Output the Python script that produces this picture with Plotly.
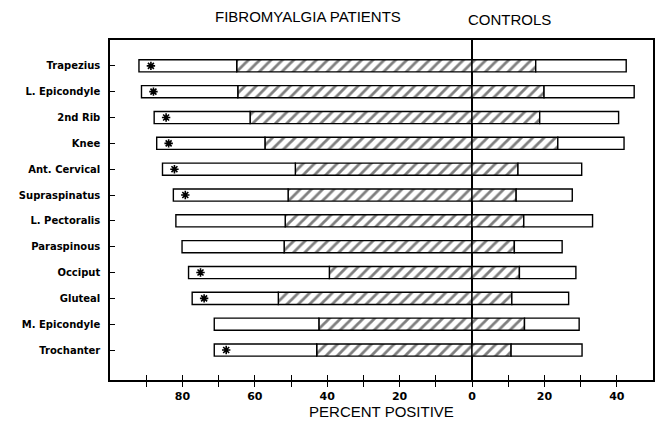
import plotly.graph_objects as go

sites = ["Trapezius", "L. Epicondyle", "2nd Rib", "Knee", "Ant. Cervical",
         "Supraspinatus", "L. Pectoralis", "Paraspinous", "Occiput", "Gluteal",
         "M. Epicondyle", "Trochanter"]
# Fibromyalgia patients: total percent positive and the hatched portion
fm_total = [92, 91.3, 87.8, 87.1, 85.5, 82.5, 81.8, 80.1, 78.3, 77.3, 71.2, 71.2]
fm_hatch = [65, 64.7, 61.3, 57.2, 48.8, 50.8, 51.6, 51.9, 39.4, 53.5, 42.3, 42.9]
# Controls: total percent positive and the hatched portion
ct_total = [42.6, 44.8, 40.5, 42.0, 30.3, 27.7, 33.3, 24.9, 28.7, 26.7, 29.6, 30.4]
ct_hatch = [17.6, 19.9, 18.7, 23.7, 12.7, 12.2, 14.3, 11.7, 13.1, 11.0, 14.5, 10.8]
significant = [True, True, True, True, True, True, False, False, True, True, False, True]

tick_vals = [-80, -60, -40, -20, 0, 20, 40]
tick_text = ["80", "60", "40", "20", "0", "20", "40"]
minor_vals = [-90, -70, -50, -30, -10, 10, 30]

ypos = list(range(len(sites)))
BW = 0.47
edge = dict(color="black", width=1.4)
hatch = dict(shape="/", fgcolor="black", bgcolor="white", size=8, solidity=0.35)

fig = go.Figure()
fig.add_trace(go.Bar(y=ypos, x=[-h for h in fm_hatch], orientation="h", width=BW,
                     marker=dict(color="white", line=edge, pattern=hatch)))
fig.add_trace(go.Bar(y=ypos, x=[-(t - h) for t, h in zip(fm_total, fm_hatch)], orientation="h",
                     width=BW, marker=dict(color="white", line=edge)))
fig.add_trace(go.Bar(y=ypos, x=ct_hatch, orientation="h", width=BW,
                     marker=dict(color="white", line=edge, pattern=hatch)))
fig.add_trace(go.Bar(y=ypos, x=[t - h for t, h in zip(ct_total, ct_hatch)], orientation="h",
                     width=BW, marker=dict(color="white", line=edge)))

ax_x = [-(t - 3.3) for t, s in zip(fm_total, significant) if s]
ax_y = [y for y, s in zip(ypos, significant) if s]
fig.add_trace(go.Scatter(x=ax_x, y=ax_y, mode="markers",
                         marker=dict(symbol="asterisk-open", size=7, color="black",
                                     line=dict(color="black", width=1.6))))
# overlay axis for the inward half of crossing ticks
fig.add_trace(go.Scatter(x=[-100, 50], y=[0, 0], xaxis="x2", mode="markers",
                         marker=dict(opacity=0), hoverinfo="skip"))

font_fam = "DejaVu Sans"
fig.update_layout(
    width=657, height=423,
    margin=dict(l=110, r=4, t=40, b=43),
    barmode="relative", showlegend=False,
    paper_bgcolor="white", plot_bgcolor="white",
    font=dict(family=font_fam, color="black"),
    xaxis=dict(range=[-100, 50], tickvals=tick_vals, ticktext=tick_text, automargin=False,
               ticks="outside", ticklen=5, tickwidth=1.4, tickcolor="black",
               minor=dict(tickvals=minor_vals, ticks="outside", ticklen=5,
                          tickwidth=1.4, tickcolor="black"),
               showgrid=False, zeroline=True, zerolinecolor="black", zerolinewidth=1.5,
               showline=True, linecolor="black", linewidth=1.5, mirror=True,
               tickfont=dict(size=11, family=font_fam, weight="bold"),
               title=dict(text="PERCENT POSITIVE", standoff=2,
                          font=dict(size=15, family="Liberation Sans"))),
    xaxis2=dict(range=[-100, 50], overlaying="x", side="bottom", tickvals=tick_vals + minor_vals,
                ticks="inside", ticklen=5, tickwidth=1.4, tickcolor="black", automargin=False,
                showticklabels=False, showgrid=False, zeroline=False, showline=False),
    yaxis=dict(range=[12.16, -1], tickvals=ypos, ticktext=sites, automargin=False,
               ticks="inside", ticklen=5, tickwidth=1.4, tickcolor="black",
               ticklabelstandoff=6,
               showgrid=False, zeroline=False,
               showline=True, linecolor="black", linewidth=1.5, mirror=True,
               tickfont=dict(size=10, family=font_fam, weight="bold")),
    annotations=[
        dict(text="FIBROMYALGIA PATIENTS", x=0.365, y=1.068, xref="paper", yref="paper",
             yanchor="middle", showarrow=False, font=dict(size=15, family="Liberation Sans")),
        dict(text="CONTROLS", x=0.816, y=1.059, xref="paper", yref="paper",
             yanchor="middle", showarrow=False, font=dict(size=15, family="Liberation Sans")),
    ],
)

fig.write_html("out.html", config={"displayModeBar": False},
               post_script="document.body.style.margin='0';document.body.style.overflow='hidden';")
